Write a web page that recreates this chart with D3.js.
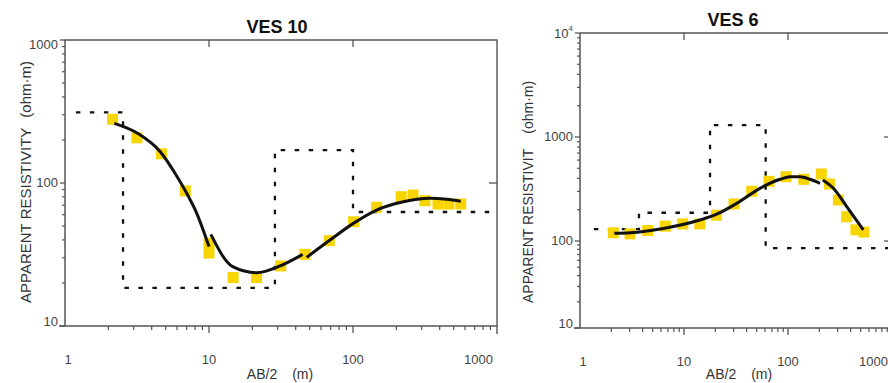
<!DOCTYPE html>
<html><head><meta charset="utf-8">
<script src="https://cdn.jsdelivr.net/npm/d3@7"></script>
<style>body{margin:0;background:#fff;} svg{display:block;font-family:Arial,"Liberation Sans",Helvetica,sans-serif;}</style>
</head><body><svg id="c" width="888" height="383"></svg>
<script>
// ---------- shared ticks ----------
const xTickValues = [1, 10, 100, 1000];
const xTickLabels = ["1", "10", "100", "1000"];

// ---------- VES 10 ----------
const ves10AB2 = [2.14, 3.16, 4.67, 6.85, 10, 10, 14.7, 21.4, 31.5, 46.4, 68.4, 101, 146, 216, 261, 316, 389, 464, 560];
const ves10Rho = [279, 207, 160, 88, 38, 32.4, 21.8, 21.8, 26.3, 31.7, 39.5, 53.6, 67.6, 80.2, 82.4, 75.2, 71.3, 71.3, 71.3];
const ves10Seg1AB2 = [2.2, 3.23, 4.57, 5.81, 7.0, 8.22, 10];
const ves10Seg1Rho = [261, 221, 166, 117, 84.7, 61.4, 35.9];
const ves10Seg2AB2 = [10.3, 14.6, 21.4, 31.1, 44.7];
const ves10Seg2Rho = [43.7, 26, 23.6, 26.3, 31.7];
const ves10Seg3AB2 = [47.7, 69.2, 100.5, 146, 216, 343, 448, 560];
const ves10Seg3Rho = [30.2, 39.9, 52.2, 64.7, 73.3, 78.2, 76.9, 74.5];
const ves10ModelEdges = [1.19, 2.53, 28.7, 100, 1000];
const ves10ModelRho = [312, 18.5, 170, 62.7];
const ves10YTickValues = [10, 100, 1000];
const ves10YTickLabels = ["10", "100", "1000"];

// ---------- VES 6 ----------
const ves6AB2 = [2.09, 3.03, 4.48, 6.61, 9.72, 14.2, 20.5, 30.3, 44.8, 65.7, 95.7, 142, 209, 250, 305, 367, 450, 538];
const ves6Rho = [120, 117, 126, 139, 146, 146, 177, 227, 301, 375, 415, 392, 441, 353, 248, 171, 128, 122];
const ves6Seg1AB2 = [2.14, 3.03, 6.32, 14.2, 20.6, 32.1, 53.8, 83.8, 105, 130, 163, 203];
const ves6Seg1Rho = [118.6, 120, 132, 159, 181, 230, 321, 392, 415, 415, 392, 359];
const ves6Seg2AB2 = [216, 273, 367, 530];
const ves6Seg2Rho = [386, 321, 214, 128];
const ves6ModelEdges = [1.36, 3.69, 17.8, 61, 1000];
const ves6ModelRho = [130, 187, 1300, 83];
const ves6YTickValues = [10, 100, 1000, 10000];
const ves6YTickLabels = ["10", "100", "1000", "10|4"];

const svg = d3.select("#c");
svg.append("rect").attr("width", 888).attr("height", 383).attr("fill", "#fff");

const AX = "#555", TXT = "#444";

function minorTicks(scale) {
  const d = scale.domain();
  const lo = d[0], hi = d[d.length - 1];
  const out = [];
  for (let p = Math.floor(Math.log10(lo)); p < Math.ceil(Math.log10(hi)); p++) {
    for (let k = 2; k <= 9; k++) {
      const v = k * Math.pow(10, p);
      if (v > lo && v < hi) out.push(v);
    }
  }
  return out;
}

function panel(o) {
  const g = svg.append("g");
  const x = o.x, y = o.y;
  const xr = x.range(), yr = y.range();
  const x0 = xr[0], x1 = xr[xr.length - 1];
  const yb = yr[0], yt = yr[yr.length - 1];

  // title
  g.append("text").attr("x", o.titleX).attr("y", yt - 7).attr("text-anchor", "middle")
    .attr("font-size", 18).attr("font-weight", "bold").attr("fill", "#111").text(o.title);

  // frame top/right
  g.append("path").attr("d", `M${x0},${yt}H${x1}V${yb + 8}`).attr("fill", "none")
    .attr("stroke", AX).attr("stroke-width", 1.4);
  // axes lines
  g.append("path").attr("d", `M${x0 - 6},${yb}H${x1}M${x0},${yb}V${yt}`).attr("fill", "none")
    .attr("stroke", AX).attr("stroke-width", 1.5);

  // bottom minor ticks
  g.selectAll(null).data(minorTicks(x)).join("line")
    .attr("x1", d => x(d)).attr("x2", d => x(d)).attr("y1", yb).attr("y2", yb + 4)
    .attr("stroke", AX).attr("stroke-width", 1.2);
  // bottom major ticks (10,100)
  g.selectAll(null).data(xTickValues.slice(1, -1)).join("line")
    .attr("x1", d => x(d)).attr("x2", d => x(d)).attr("y1", yb).attr("y2", yb + 7)
    .attr("stroke", AX).attr("stroke-width", 1.3);
  // top ticks inward
  g.selectAll(null).data(xTickValues.slice(1, -1)).join("line")
    .attr("x1", d => x(d)).attr("x2", d => x(d)).attr("y1", yt).attr("y2", yt + 7)
    .attr("stroke", AX).attr("stroke-width", 1.3);
  // left minor ticks
  g.selectAll(null).data(minorTicks(y)).join("line")
    .attr("x1", x0 - 3).attr("x2", x0).attr("y1", d => y(d)).attr("y2", d => y(d))
    .attr("stroke", AX).attr("stroke-width", 1.2);
  // left major ticks
  g.selectAll(null).data(o.yTicks).join("line")
    .attr("x1", x0 - 5).attr("x2", x0).attr("y1", d => y(d)).attr("y2", d => y(d))
    .attr("stroke", AX).attr("stroke-width", 1.3);
  // right ticks inward
  g.selectAll(null).data(o.yTicks.slice(1, -1)).join("line")
    .attr("x1", x1 - 8).attr("x2", x1).attr("y1", d => y(d)).attr("y2", d => y(d))
    .attr("stroke", AX).attr("stroke-width", 1.3);

  // x tick labels
  g.selectAll(null).data(xTickValues).join("text")
    .attr("x", (d, i) => i === 0 ? x(d) + 3 : (i === xTickValues.length - 1 ? x(d) - 4 : x(d)))
    .attr("y", yb + 38)
    .attr("text-anchor", (d, i) => i === xTickValues.length - 1 ? "end" : "middle")
    .attr("font-size", 13).attr("fill", TXT)
    .text((d, i) => xTickLabels[i]);

  // y tick labels
  const yl = g.selectAll(null).data(o.yTicks).join("text")
    .attr("x", x0 - 7)
    .attr("y", (d, i) => y(d) + (i === 0 ? -3 : (i === o.yTicks.length - 1 ? o.topDy : 1)))
    .attr("text-anchor", "end").attr("dominant-baseline", "middle")
    .attr("font-size", 13).attr("fill", TXT);
  yl.each(function (d, i) {
    const parts = o.yLabels[i].split("|");
    const t = d3.select(this);
    t.append("tspan").text(parts[0]);
    if (parts[1]) t.append("tspan").attr("font-size", 8).attr("dy", -6).text(parts[1]);
  });

  // x axis title
  const xt = g.append("text").attr("x", o.xTitleX).attr("y", 379).attr("text-anchor", "middle")
    .attr("font-size", 14).attr("fill", "#333");
  xt.append("tspan").text("AB/2");
  xt.append("tspan").attr("dx", 15).text("(m)");

  // y axis title
  const ytt = g.append("text").attr("transform", `translate(${o.yTitleX},303) rotate(-90)`)
    .attr("font-size", o.yTitleSize).attr("fill", "#333");
  ytt.append("tspan").text(o.yTitle);
  ytt.append("tspan").attr("dx", o.yTitleGap).text("(ohm·m)");

  // model (dashed)
  const modelPts = [];
  o.modelRho.forEach((r, i) => { modelPts.push([o.modelEdges[i], r]); modelPts.push([o.modelEdges[i + 1], r]); });
  const lin = d3.line().x(d => x(d[0])).y(d => y(d[1]));
  g.append("path").attr("d", lin(modelPts)).attr("fill", "none").attr("stroke", "#111")
    .attr("stroke-width", 2.3).attr("stroke-dasharray", "4.5,9.5");

  // observed squares
  const s = 11;
  g.selectAll(null).data(o.ab2.map((a, i) => [a, o.rho[i]])).join("rect")
    .attr("x", d => x(d[0]) - s / 2).attr("y", d => y(d[1]) - s / 2)
    .attr("width", s).attr("height", s).attr("fill", "#F8D500");

  // calculated curve segments
  const cl = d3.line().x(d => x(d[0])).y(d => y(d[1])).curve(d3.curveMonotoneX);
  o.segs.forEach(sg => {
    g.append("path").attr("d", cl(sg[0].map((a, i) => [a, sg[1][i]]))).attr("fill", "none")
      .attr("stroke", "#111").attr("stroke-width", 3).attr("stroke-linejoin", "round");
  });
}

panel({
  title: "VES 10", titleX: 277,
  x: d3.scaleLog().domain([1, 1000]).range([65, 497]),
  y: d3.scaleLog().domain([10, 1000]).range([326, 40]),
  yTicks: ves10YTickValues, yLabels: ves10YTickLabels, topDy: 6,
  xTitleX: 280, yTitleX: 31, yTitleSize: 15, yTitleGap: 10,
  yTitle: "APPARENT RESISTIVITY",
  ab2: ves10AB2, rho: ves10Rho,
  segs: [[ves10Seg1AB2, ves10Seg1Rho], [ves10Seg2AB2, ves10Seg2Rho], [ves10Seg3AB2, ves10Seg3Rho]],
  modelEdges: ves10ModelEdges, modelRho: ves10ModelRho
});

panel({
  title: "VES 6", titleX: 733,
  x: d3.scaleLog().domain([1, 1000]).range([580, 892]),
  y: d3.scaleLog().domain([10, 100, 10000]).range([328, 241, 33]),
  yTicks: ves6YTickValues, yLabels: ves6YTickLabels, topDy: 2,
  xTitleX: 739, yTitleX: 533, yTitleSize: 14, yTitleGap: 15,
  yTitle: "APPARENT RESISTIVIT",
  ab2: ves6AB2, rho: ves6Rho,
  segs: [[ves6Seg1AB2, ves6Seg1Rho], [ves6Seg2AB2, ves6Seg2Rho]],
  modelEdges: ves6ModelEdges, modelRho: ves6ModelRho
});
</script></body></html>
